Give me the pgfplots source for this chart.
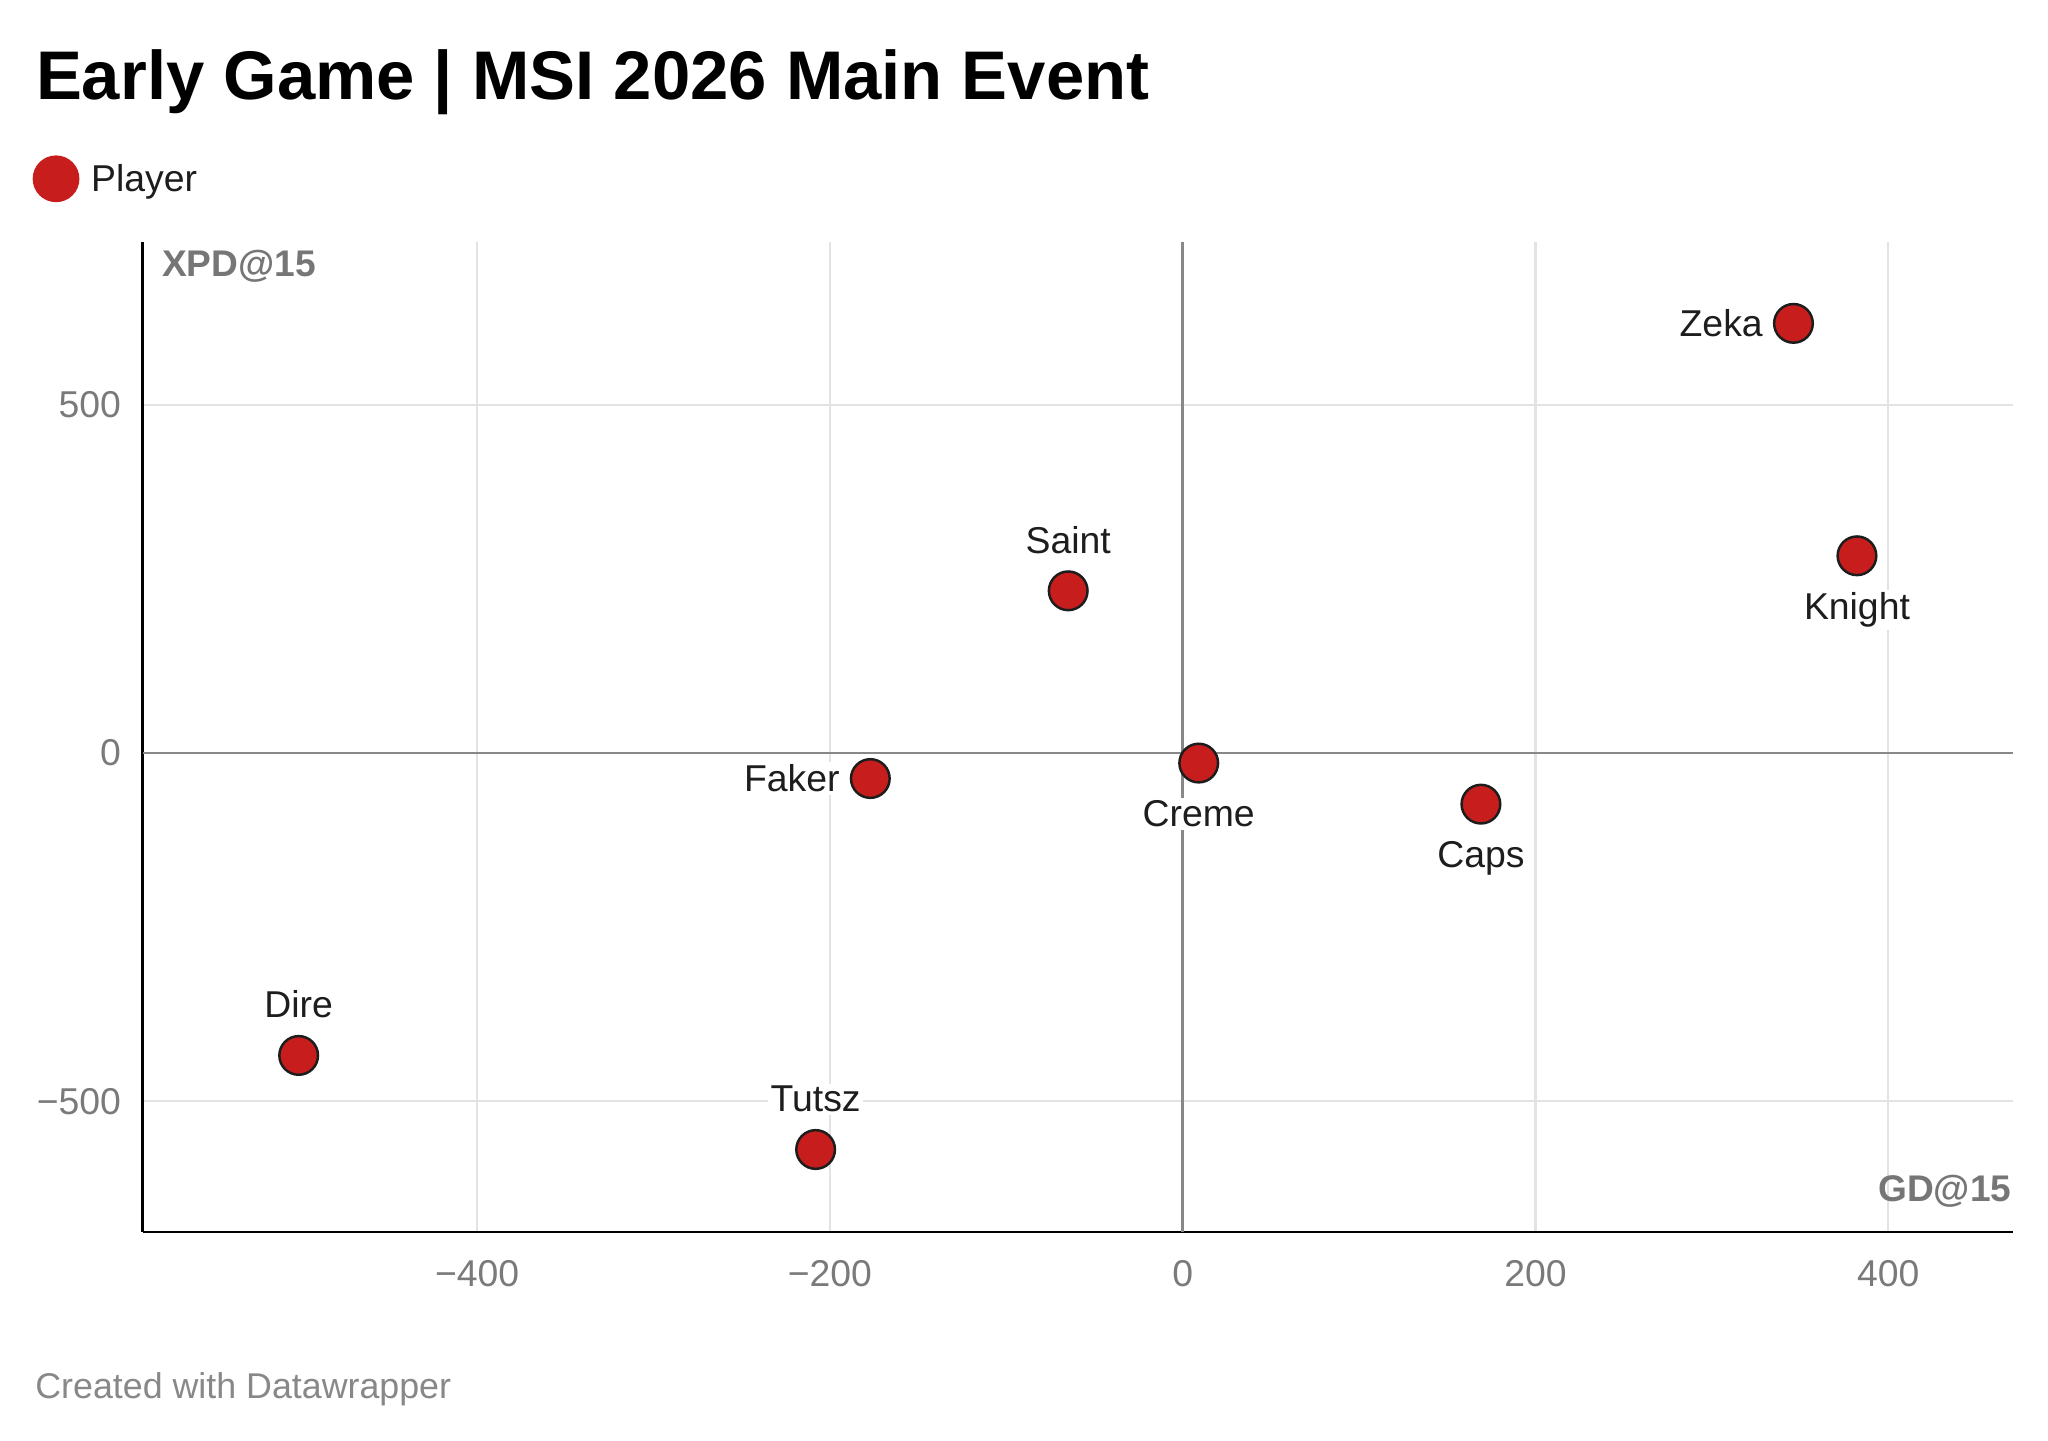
\documentclass[border=0pt]{standalone}
\usepackage{fontspec}
\setmainfont{Liberation Sans}
\usepackage{pgfplots}
\pgfplotsset{compat=1.18}
\definecolor{dwred}{HTML}{C71E1D}
\definecolor{tickgray}{HTML}{7A7A7A}
\definecolor{gridgray}{HTML}{E3E3E3}
\definecolor{zerogray}{HTML}{888888}
\definecolor{labelgray}{HTML}{767676}
\definecolor{creditgray}{HTML}{888888}
\definecolor{txt}{HTML}{1D1D1D}
\begin{document}
\begin{tikzpicture}
\useasboundingbox (0,0) rectangle (784pt,-551.5pt);
\node[anchor=base west, inner sep=0pt, font=\fontsize{26.35}{30}\selectfont\bfseries] at (13.6pt,-37.9pt) {Early Game | MSI 2026 Main Event};
\begin{axis}[
  at={(54.65pt,-471.65pt)}, anchor=south west,
  scale only axis, width=716.1pt, height=379.15pt,
  xmin=-589.6, xmax=471, ymin=-688, ymax=734.5,
  axis x line*=bottom, axis y line*=left,
  axis line style={-, line width=1pt, black},
  xtick={-400,-200,0,200,400}, xticklabels={−400,−200,0,200,400},
  ytick={-500,0,500}, yticklabels={−500,0,500},
  major tick length=0pt,
  grid=major, major grid style={gridgray, line width=0.9pt},
  ticklabel style={font=\fontsize{14.3}{17}\selectfont, text=tickgray, inner sep=0pt},
  xticklabel style={anchor=north, yshift=-10.75pt},
  yticklabel style={anchor=east, xshift=-8.15pt},
  clip=false,
  legend style={at={(axis description cs:-0.05886,1.08704)}, anchor=north west,
    draw=none, fill=none, inner sep=0pt, outer sep=0pt,
    nodes={inner sep=0pt, font=\fontsize{14.3}{17}\selectfont, text=txt},
    /tikz/every odd column/.append style={column sep=4.5pt}},
  legend cell align=left,
  every node near coord/.append style={font=\fontsize{14.3}{17}\selectfont, text=txt, fill=white, inner sep=1pt},
]
\addlegendimage{legend image code/.code={\fill[dwred] (8.75pt,0.6pt) circle (8.75pt);}}
\addlegendentry{Player}
\draw[zerogray, line width=1pt] (axis cs:0,-688) -- (axis cs:0,734.5);
\draw[zerogray, line width=1pt] (axis cs:-589.6,0) -- (axis cs:471,0);
% labels above
\addplot[only marks, mark=*, mark size=7.4pt, mark options={fill=dwred, draw=txt, line width=0.95pt},
  nodes near coords, point meta=explicit symbolic,
  every node near coord/.append style={anchor=base, yshift=14.4pt}]
  table[meta=label] {
x y label
-64.9 233.0 Saint
-501.2 -434.3 Dire
-208.1 -569.4 Tutsz
};
% labels below
\addplot[only marks, mark=*, mark size=7.4pt, mark options={fill=dwred, draw=txt, line width=0.95pt},
  nodes near coords, point meta=explicit symbolic,
  every node near coord/.append style={anchor=base, yshift=-24.3pt}]
  table[meta=label] {
x y label
382.3 283.3 Knight
9.1 -14.4 Creme
169.1 -73.4 Caps
};
% labels left
\addplot[only marks, mark=*, mark size=7.4pt, mark options={fill=dwred, draw=txt, line width=0.95pt},
  nodes near coords, point meta=explicit symbolic,
  every node near coord/.append style={anchor=east, xshift=-10.3pt, yshift=0pt}]
  table[meta=label] {
x y label
346.3 617.1 Zeka
-177.1 -36.6 Faker
};
\end{axis}
\node[anchor=base west, inner sep=0pt, font=\fontsize{14.2}{17}\selectfont\bfseries, text=labelgray] at (61.9pt,-105.95pt) {XPD@15};
\node[anchor=base east, inner sep=0pt, font=\fontsize{14.2}{17}\selectfont\bfseries, text=labelgray] at (770.15pt,-460pt) {GD@15};
\node[anchor=base west, inner sep=0pt, font=\fontsize{13.7}{17}\selectfont, text=creditgray] at (13.35pt,-535.35pt) {Created with Datawrapper};
\end{tikzpicture}
\end{document}
